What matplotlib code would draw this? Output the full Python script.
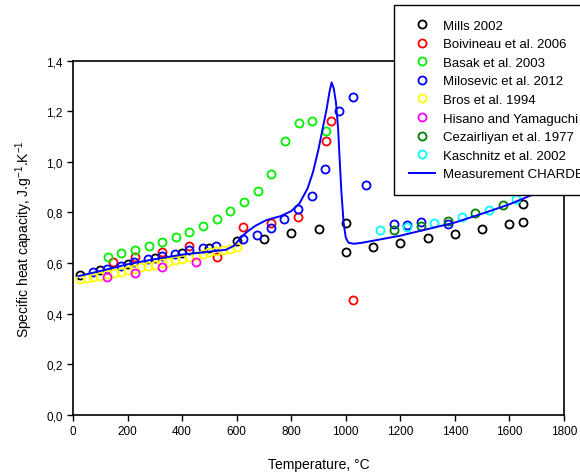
import matplotlib
matplotlib.use("Agg")
import matplotlib.pyplot as plt
from matplotlib.ticker import FuncFormatter

plt.rcParams['font.family'] = ['Liberation Sans', 'DejaVu Sans']

# Mills 2002
mills_t = [25, 100, 200, 300, 400, 500, 600, 700, 800, 900, 1000, 1000,
           1100, 1200, 1300, 1400, 1500, 1600, 1650, 1650]
mills_cp = [0.554, 0.572, 0.595, 0.620, 0.640, 0.660, 0.688, 0.696, 0.717, 0.734,
            0.757, 0.645, 0.662, 0.681, 0.697, 0.716, 0.734, 0.754, 0.762, 0.833]

# Boivineau et al. 2006
boiv_t = [145, 226, 327, 426, 527, 625, 725, 826, 926, 944, 1025]
boiv_cp = [0.605, 0.622, 0.644, 0.667, 0.622, 0.742, 0.758, 0.781, 1.083, 1.163, 0.452]

# Basak et al. 2003
basak_t = [127, 177, 227, 277, 327, 377, 427, 477, 527, 577, 627, 677, 727,
           777, 827, 877, 927]
basak_cp = [0.622, 0.638, 0.652, 0.666, 0.682, 0.701, 0.724, 0.747, 0.772, 0.805,
            0.842, 0.886, 0.951, 1.082, 1.152, 1.162, 1.123]

# Milosevic et al. 2012
milo_t = [75, 125, 175, 225, 275, 325, 375, 425, 475, 525, 625, 675, 725, 775,
          825, 875, 925, 975, 1025, 1075, 1175, 1225, 1275, 1375]
milo_cp = [0.566, 0.576, 0.589, 0.604, 0.617, 0.626, 0.636, 0.651, 0.661, 0.668,
           0.695, 0.711, 0.739, 0.774, 0.812, 0.866, 0.971, 1.202, 1.258, 0.908,
           0.756, 0.752, 0.763, 0.754]

# Bros et al. 1994
bros_t = [25, 50, 75, 100, 125, 150, 175, 200, 225, 250, 275, 300, 325, 350,
          375, 400, 425, 450, 475, 500, 525, 550, 575, 600]
bros_cp = [0.537, 0.540, 0.545, 0.550, 0.555, 0.561, 0.566, 0.571, 0.576, 0.583,
           0.589, 0.594, 0.599, 0.605, 0.611, 0.616, 0.622, 0.628, 0.636, 0.642,
           0.648, 0.652, 0.656, 0.663]

# Hisano and Yamaguchi
hisano_t = [126, 226, 327, 450]
hisano_cp = [0.543, 0.560, 0.583, 0.603]

# Cezairliyan et al. 1977
ceza_t = [1175, 1275, 1375, 1475, 1575]
ceza_cp = [0.731, 0.746, 0.767, 0.796, 0.830]

# Kaschnitz et al. 2002
kasch_t = [1125, 1225, 1325, 1425, 1525, 1625]
kasch_cp = [0.731, 0.741, 0.758, 0.781, 0.808, 0.853]

# Measurement CHARDE (curve)
meas_t = [20, 100, 200, 300, 400, 500, 560, 590, 615, 640, 670, 710, 760, 800,
          830, 860, 880, 900, 915, 930, 940, 948, 956, 964, 972, 978, 984, 992,
          1000, 1010, 1030, 1060, 1100, 1200, 1300, 1400, 1500, 1600, 1700]
meas_cp = [0.548, 0.568, 0.595, 0.615, 0.633, 0.645, 0.652, 0.668, 0.700, 0.725,
           0.748, 0.770, 0.785, 0.805, 0.835, 0.895, 0.960, 1.050, 1.130, 1.210,
           1.275, 1.314, 1.290, 1.235, 1.130, 1.000, 0.880, 0.760, 0.700, 0.680,
           0.676, 0.680, 0.688, 0.708, 0.734, 0.760, 0.795, 0.832, 0.877]

series = [
    (mills_t, mills_cp, "black", "Mills 2002"),
    (boiv_t, boiv_cp, "#ff0000", "Boivineau et al. 2006"),
    (basak_t, basak_cp, "#00f000", "Basak et al. 2003"),
    (milo_t, milo_cp, "#0000ff", "Milosevic et al. 2012"),
    (bros_t, bros_cp, "#ffff00", "Bros et al. 1994"),
    (hisano_t, hisano_cp, "#ff00ff", "Hisano and Yamaguchi"),
    (ceza_t, ceza_cp, "#008000", "Cezairliyan et al. 1977"),
    (kasch_t, kasch_cp, "#00ffff", "Kaschnitz et al. 2002"),
]

fig = plt.figure(figsize=(5.8, 4.77), dpi=100)
ax = fig.add_axes([73/580, 1-415.7/477, (564-73)/580, (415.7-61.7)/477])

for t, cp, col, lab in series:
    ax.plot(t, cp, linestyle="none", marker="o", markersize=5.8,
            markerfacecolor="none", markeredgecolor=col, markeredgewidth=1.3,
            label=lab)
ax.plot(meas_t, meas_cp, color="#0000ff", linewidth=1.4, label="Measurement CHARDE")

ax.set_xlim(0, 1800)
ax.set_ylim(0, 1.4)
ax.set_xticks(range(0, 1801, 200))
ax.set_yticks([0, 0.2, 0.4, 0.6, 0.8, 1.0, 1.2, 1.4])
ax.yaxis.set_major_formatter(FuncFormatter(lambda v, p: f"{v:.1f}".replace(".", ",")))
ax.tick_params(direction="out", length=4, width=1, labelsize=8.5, colors="black")
for s in ax.spines.values():
    s.set_linewidth(1.2)

ax.set_xlabel("Temperature, °C", fontsize=10, labelpad=14)
ax.set_ylabel("Specific heat capacity, J.g$^{\\mathregular{-1}}$.K$^{\\mathregular{-1}}$",
              fontsize=10, labelpad=8)

leg = ax.legend(loc="upper left", bbox_to_anchor=(394/580, 1-6/477),
                bbox_transform=fig.transFigure, borderaxespad=0,
                fontsize=9.5, frameon=True, fancybox=False, framealpha=1,
                edgecolor="black", handlelength=2.0, handletextpad=0.6,
                labelspacing=0.48, borderpad=1.1)
leg.get_frame().set_linewidth(1.0)

fig.savefig("out.png", dpi=100)
